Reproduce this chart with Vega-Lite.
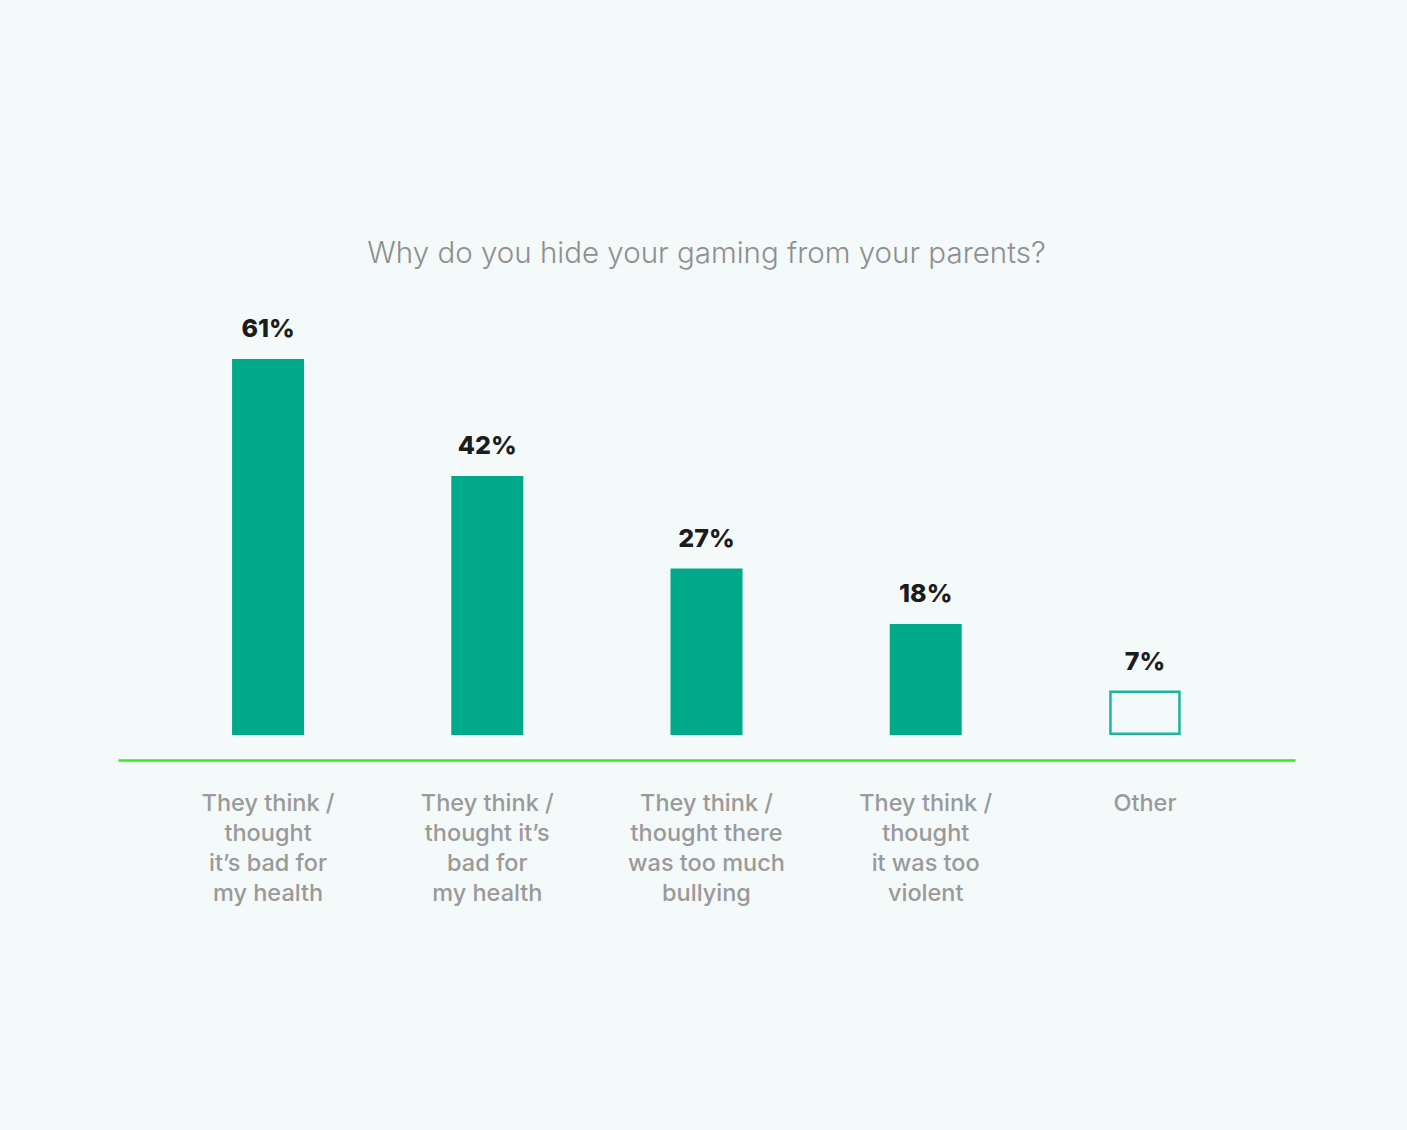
{
  "$schema": "https://vega.github.io/schema/vega-lite/v6.json",
  "autosize": {"type": "none"},
  "width": 1177,
  "height": 456.5,
  "padding": {"left": 118, "top": 303.5, "right": 112, "bottom": 370},
  "background": "#f4f9f9",
  "view": {"stroke": null},
  "title": {
    "text": "Why do you hide your gaming from your parents?",
    "anchor": "middle",
    "font": "Inter",
    "fontWeight": 300,
    "fontSize": 29.5,
    "color": "#8f8f8f",
    "offset": 34
  },
  "data": {
    "values": [
      {"reason": "They think /|thought|it’s bad for|my health", "pct": 61, "kind": "solid"},
      {"reason": "They think /|thought it’s|bad for|my health", "pct": 42, "kind": "solid"},
      {"reason": "They think /|thought there|was too much|bullying", "pct": 27, "kind": "solid"},
      {"reason": "They think /|thought|it was too|violent", "pct": 18, "kind": "solid"},
      {"reason": "Other", "pct": 7, "kind": "outline"}
    ]
  },
  "transform": [{"calculate": "datum.pct + '%'", "as": "label"}],
  "encoding": {
    "x": {
      "field": "reason",
      "type": "nominal",
      "sort": null,
      "scale": {"paddingInner": 0.671, "paddingOuter": 0.52},
      "axis": {
        "title": null,
        "labelAngle": 0,
        "labelExpr": "split(datum.value, '|')",
        "labelFont": "Inter",
        "labelFontWeight": 500,
        "labelFontSize": 23.5,
        "labelColor": "#9a9a9a",
        "labelLineHeight": 30,
        "labelPadding": 31,
        "labelBaseline": "top",
        "ticks": false,
        "domainColor": "#33ee22",
        "domainWidth": 2.5,
        "grid": false
      }
    },
    "y": {
      "field": "pct",
      "type": "quantitative",
      "scale": {"domain": [-4.056, 70], "nice": false, "zero": false},
      "axis": null
    }
  },
  "layer": [
    {
      "transform": [{"filter": "datum.kind == 'solid'"}],
      "mark": {"type": "bar", "width": 72, "color": "#00a98a"},
      "encoding": {"y2": {"datum": 0}}
    },
    {
      "transform": [{"filter": "datum.kind == 'outline'"}],
      "mark": {"type": "bar", "width": 69, "fill": "#f4f9f9", "stroke": "#1fb59a", "strokeWidth": 2.5},
      "encoding": {"y2": {"datum": 0.2}}
    },
    {
      "mark": {
        "type": "text",
        "font": "Inter",
        "fontWeight": 800,
        "fontSize": 25,
        "color": "#1c1c1c",
        "baseline": "alphabetic",
        "dy": -22
      },
      "encoding": {
        "text": {"field": "label", "type": "nominal"}
      }
    }
  ]
}
